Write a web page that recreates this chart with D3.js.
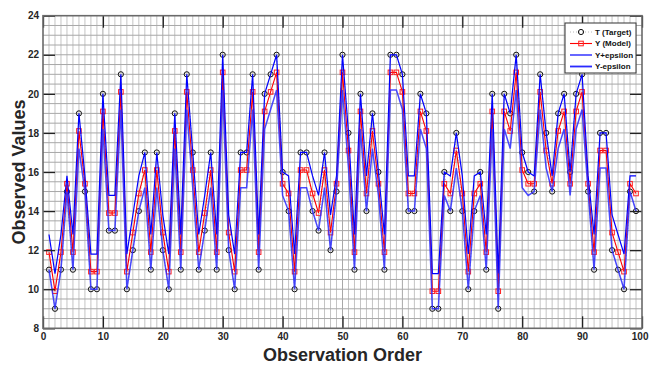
<!DOCTYPE html>
<html><head><meta charset="utf-8">
<script src="https://cdn.jsdelivr.net/npm/d3@7"></script>
<style>body{margin:0;background:#fff}svg{display:block}</style>
</head><body>
<svg id="c" width="649" height="365"></svg>
<script>
const obs = d3.range(1, 100);
const targetT = [11,9,11,15,11,19,15,10,10,20,
13,13,21,10,12,14,17,11,17,12,
10,19,11,21,17,11,13,17,11,22,
12,10,17,17,21,11,20,21,22,16,
14,10,17,17,14,13,17,12,15,22,
18,11,20,14,19,16,11,22,22,21,
14,14,20,19,9,9,16,14,18,14,
10,14,16,11,20,9,20,19,22,17,
16,15,21,18,15,19,20,16,20,21,
15,11,18,18,12,11,10,15,14];
const modelY = [11.9,9.9,11.9,15.4,11.9,18.1,15.4,10.9,10.9,19.1,
13.9,13.9,20.1,10.9,12.9,14.9,16.1,11.9,16.1,12.9,
10.9,18.1,11.9,20.1,16.1,11.9,13.9,16.1,11.9,21.1,
12.9,10.9,16.1,16.1,20.1,11.9,19.1,20.1,21.1,15.4,
14.9,10.9,16.1,16.1,14.9,13.9,16.1,12.9,15.4,21.1,
17.1,11.9,19.1,14.9,18.1,15.4,11.9,21.1,21.1,20.1,
14.9,14.9,19.1,18.1,9.9,9.9,15.4,14.9,17.1,14.9,
10.9,14.9,15.4,11.9,19.1,9.9,19.1,18.1,21.1,16.1,
15.4,15.4,20.1,17.1,15.4,18.1,19.1,15.4,19.1,20.1,
15.4,11.9,17.1,17.1,12.9,11.9,10.9,15.4,14.9];
const epsilon = [0.9,0.9,0.9,0.4,0.9,0.9,0.4,0.9,0.9,0.9,
0.9,0.9,0.9,0.9,0.9,0.9,0.9,0.9,0.9,0.9,
0.9,0.9,0.9,0.9,0.9,0.9,0.9,0.9,0.9,0.9,
0.9,0.9,0.9,0.9,0.9,0.9,0.9,0.9,0.9,0.6,
0.9,0.9,0.9,0.9,0.9,0.9,0.9,0.9,0.4,0.9,
0.9,0.9,0.9,0.9,0.9,0.6,0.9,0.9,0.9,0.9,
0.9,0.9,0.9,0.9,0.9,0.9,0.6,0.9,0.9,0.9,
0.9,0.9,0.6,0.9,0.9,0.9,0.9,0.9,0.9,0.9,
0.6,0.4,0.9,0.9,0.4,0.9,0.9,0.6,0.9,0.9,
0.4,0.9,0.9,0.9,0.9,0.9,0.9,0.4,0.9];
const xTicks = [0,10,20,30,40,50,60,70,80,90,100];
const yTicks = [8,10,12,14,16,18,20,22,24];
const legendLabels = ["T (Target)","Y (Model)","Y+epsilon","Y-epsilon"];

const svg = d3.select("#c");
const L=43, R=642, T=15.7, B=328.3;
const x = d3.scaleLinear().domain([0,100]).range([L,R]);
const y = d3.scaleLinear().domain([8,24]).range([B,T]);
const font = "Arial, 'Liberation Sans', sans-serif";

// grid
const g = svg.append("g");
g.selectAll("line.v").data(d3.range(1,100)).join("line")
  .attr("x1",d=>x(d)).attr("x2",d=>x(d)).attr("y1",T).attr("y2",B)
  .attr("stroke",d=>d%10===0?"#a8a8a8":"#c4c4c4").attr("stroke-width",1);
g.selectAll("line.h").data(d3.range(8.5,24,0.5)).join("line")
  .attr("x1",L).attr("x2",R).attr("y1",d=>y(d)).attr("y2",d=>y(d))
  .attr("stroke","#a8a8a8").attr("stroke-width",1);

const pts = obs.map((o,i)=>({o, t:targetT[i], m:modelY[i], up:modelY[i]+epsilon[i], lo:modelY[i]-epsilon[i]}));
const line = key => d3.line().x(d=>x(d.o)).y(d=>y(d[key]));

// T dotted line
svg.append("path").datum(pts).attr("d",line("t")).attr("fill","none")
  .attr("stroke","#b8b8b8").attr("stroke-width",1).attr("stroke-dasharray","1,2");
svg.append("g").selectAll("circle").data(pts).join("circle")
  .attr("cx",d=>x(d.o)).attr("cy",d=>y(d.t)).attr("r",2.6)
  .attr("fill","none").attr("stroke","#111").attr("stroke-width",1);
// Y model
svg.append("path").datum(pts).attr("d",line("m")).attr("fill","none")
  .attr("stroke","#ff0000").attr("stroke-width",1.1);
svg.append("g").selectAll("rect").data(pts).join("rect")
  .attr("x",d=>x(d.o)-2.3).attr("y",d=>y(d.m)-2.3).attr("width",4.6).attr("height",4.6)
  .attr("fill","none").attr("stroke","#ff2020").attr("stroke-width",1);
// bands
svg.append("path").datum(pts).attr("d",line("up")).attr("fill","none")
  .attr("stroke","#0000ff").attr("stroke-width",1.2);
svg.append("path").datum(pts).attr("d",line("lo")).attr("fill","none")
  .attr("stroke","#2a2aff").attr("stroke-width",1.5).attr("stroke-opacity",0.85);

// axes
const axStyle = sel => {
  sel.select(".domain").remove();
  sel.selectAll(".tick line").attr("stroke","#222").attr("stroke-width",1.3);
  sel.selectAll("text").attr("font-family",font).attr("font-size","10px")
    .attr("font-weight","bold").attr("fill","#262626");
};
const xb = svg.append("g").attr("transform",`translate(0,${B})`)
  .call(d3.axisBottom(x).tickValues(xTicks).tickSize(-12).tickPadding(5).tickFormat(d3.format("d"))).call(axStyle);
xb.selectAll(".tick text").filter(d=>d===100).attr("text-anchor","end").attr("x",6);
svg.append("g").attr("transform",`translate(0,${T})`)
  .call(d3.axisTop(x).tickValues(xTicks).tickSize(-12).tickFormat("")).call(axStyle);
svg.append("g").attr("transform",`translate(${L},0)`)
  .call(d3.axisLeft(y).tickValues(yTicks).tickSize(-12).tickPadding(4).tickFormat(d3.format("d"))).call(axStyle);
svg.append("g").attr("transform",`translate(${R},0)`)
  .call(d3.axisRight(y).tickValues(yTicks).tickSize(-12).tickFormat("")).call(axStyle);
// frame
svg.append("rect").attr("x",L).attr("y",T).attr("width",R-L).attr("height",B-T)
  .attr("fill","none").attr("stroke","#6a6a6a").attr("stroke-width",1.6);

// labels
svg.append("text").attr("x",(L+R)/2).attr("y",361).attr("text-anchor","middle")
  .attr("font-family",font).attr("font-size","18px").attr("font-weight","bold").attr("fill","#262626")
  .text("Observation Order");
svg.append("text").attr("transform",`translate(25,${(T+B)/2}) rotate(-90)`).attr("text-anchor","middle")
  .attr("font-family",font).attr("font-size","18px").attr("font-weight","bold").attr("fill","#262626")
  .text("Observed Values");

// legend
const lg = svg.append("g");
lg.append("rect").attr("x",565).attr("y",23).attr("width",71).attr("height",50)
  .attr("fill","#fff").attr("stroke","#333").attr("stroke-width",1);
const rowY = [32,43.5,55,66.5];
const styles = [
  {stroke:"#b8b8b8", dash:"1,2", w:1},
  {stroke:"#ff0000", dash:null, w:1.1},
  {stroke:"#0000ff", dash:null, w:1.2},
  {stroke:"#2a2aff", dash:null, w:1.8}
];
legendLabels.forEach((lab,i)=>{
  lg.append("line").attr("x1",570).attr("x2",592).attr("y1",rowY[i]).attr("y2",rowY[i])
    .attr("stroke",styles[i].stroke).attr("stroke-width",styles[i].w)
    .attr("stroke-dasharray",styles[i].dash);
  if(i===0) lg.append("circle").attr("cx",581).attr("cy",rowY[i]).attr("r",2.6)
    .attr("fill","none").attr("stroke","#111");
  if(i===1) lg.append("rect").attr("x",578.7).attr("y",rowY[i]-2.3).attr("width",4.6).attr("height",4.6)
    .attr("fill","none").attr("stroke","#ff2020");
  lg.append("text").attr("x",595).attr("y",rowY[i]).attr("dy","0.35em")
    .attr("font-family",font).attr("font-size","8px").attr("font-weight","bold").attr("fill","#111")
    .text(lab);
});
</script>
</body></html>
